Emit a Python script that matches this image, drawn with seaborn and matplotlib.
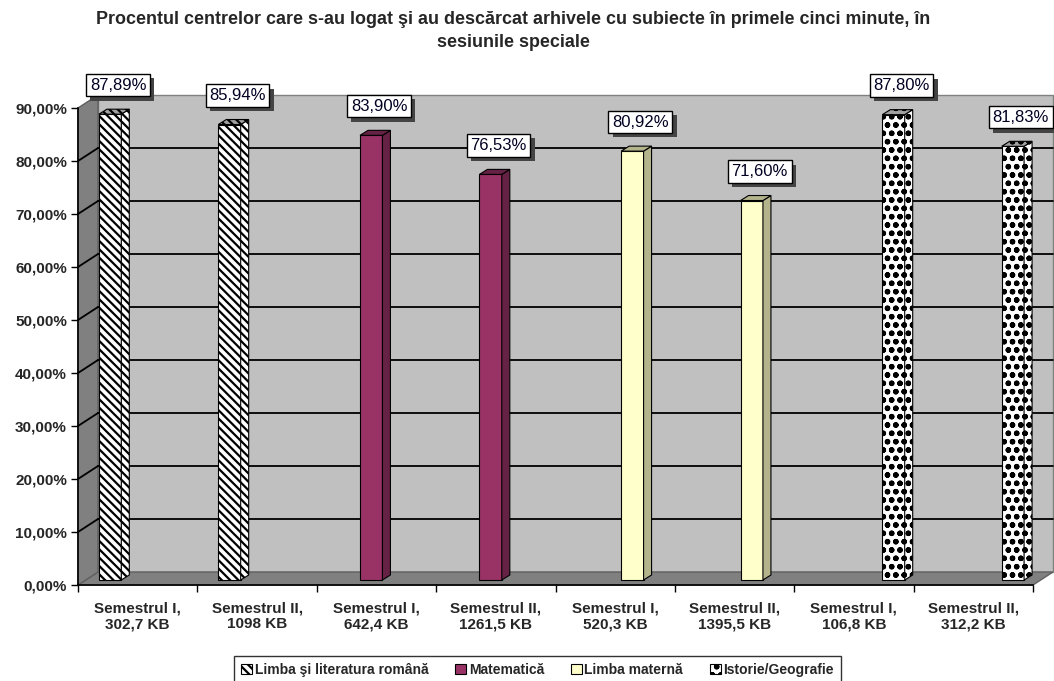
import numpy as np
import pandas as pd
import seaborn as sns
import matplotlib.pyplot as plt
import matplotlib.patheffects as pe
from matplotlib.patches import Polygon, Patch
from matplotlib.transforms import offset_copy, IdentityTransform
from matplotlib.ticker import FuncFormatter

categories = ["Semestrul I,\n302,7 KB", "Semestrul II,\n1098 KB",
              "Semestrul I,\n642,4 KB", "Semestrul II,\n1261,5 KB",
              "Semestrul I,\n520,3 KB", "Semestrul II,\n1395,5 KB",
              "Semestrul I,\n106,8 KB", "Semestrul II,\n312,2 KB"]
subjects = ["Limba şi literatura română", "Limba şi literatura română",
            "Matematică", "Matematică",
            "Limba maternă", "Limba maternă",
            "Istorie/Geografie", "Istorie/Geografie"]
values = [87.89, 85.94, 83.90, 76.53, 80.92, 71.60, 87.80, 81.83]
subject_order = ["Limba şi literatura română", "Matematică", "Limba maternă", "Istorie/Geografie"]
yticks = [0, 10, 20, 30, 40, 50, 60, 70, 80, 90]

title = ("Procentul centrelor care s-au logat şi au descărcat arhivele cu subiecte în primele cinci minute, în\n"
         "sesiunile speciale")

df = pd.DataFrame({"cat": categories, "subj": subjects, "val": values})

sns.set_style("white")
plt.rcParams['font.family'] = ['Liberation Sans', 'DejaVu Sans']
plt.rcParams['hatch.linewidth'] = 1.6

# stil pe serie: fata, lateral, hasura
styles = {
    "Limba şi literatura română": ("white", "white", "\\\\\\\\"),
    "Matematică": ("#993366", "#662244", None),
    "Limba maternă": ("#FFFFCC", "#B3B38C", None),
    "Istorie/Geografie": ("white", "white", "oo"),
}

fig = plt.figure(figsize=(10.54, 6.81), dpi=100)
ax = fig.add_axes([78 / 1054, 1 - 585 / 681, (1033 - 78) / 1054, (585 - 108) / 681])
ax.set_facecolor("none")

sns.barplot(data=df, x="cat", y="val", hue="subj", hue_order=subject_order,
            order=categories, dodge=True, width=0.75, legend=False, ax=ax,
            saturation=1, zorder=3)

ax.set_xlim(-0.5, 7.5)
ax.set_ylim(0, 90)
ax.set_xlabel("")
ax.set_ylabel("")

# perete spate, podea, perete stanga (efect 3D)
DX, DY = 20, 13
back = offset_copy(ax.transData, fig=fig, x=DX, y=DY, units='dots')
T = ax.transData
fig.canvas.draw()

def disp(x, y, dx=0, dy=0):
    p = T.transform((x, y))
    return (p[0] + dx, p[1] + dy)

idt = IdentityTransform()
ax.add_patch(Polygon([disp(-0.5, 0, DX, DY), disp(7.5, 0, DX, DY), disp(7.5, 90, DX, DY), disp(-0.5, 90, DX, DY)],
                     closed=True, facecolor="#C0C0C0", edgecolor="#808080", lw=1,
                     transform=idt, clip_on=False, zorder=0))
ax.add_patch(Polygon([disp(-0.5, 0), disp(7.5, 0), disp(7.5, 0, DX, DY), disp(-0.5, 0, DX, DY)],
                     closed=True, facecolor="#808080", edgecolor="#606060", lw=1,
                     transform=idt, clip_on=False, zorder=0.5))
ax.add_patch(Polygon([disp(-0.5, 0), disp(-0.5, 90), disp(-0.5, 90, DX, DY), disp(-0.5, 0, DX, DY)],
                     closed=True, facecolor="#808080", edgecolor="#606060", lw=1,
                     transform=idt, clip_on=False, zorder=0.5))
for v in yticks[1:-1]:
    ax.plot([-0.5, 7.5], [v, v], color="black", lw=1.3, transform=back, clip_on=False, zorder=1)
    a, b = disp(-0.5, v), disp(-0.5, v, DX, DY)
    ax.plot([a[0], b[0]], [a[1], b[1]], color="black", lw=1.3, transform=idt, clip_on=False, zorder=1)

# bare 3D
SX, SY = 6, 5
D, DD = 8, 5
shadow = [pe.withSimplePatchShadow(offset=(3, -3), shadow_rgbFace="#444444", alpha=1.0)]
for subj, cont in zip(subject_order, ax.containers):
    face, side, hatch = styles[subj]
    for bar in cont:
        x0, yb = bar.get_x(), bar.get_y()
        x1, yt = x0 + bar.get_width(), yb + bar.get_height()
        bar.set_transform(offset_copy(ax.transData, fig=fig, x=SX, y=SY, units='dots'))
        bar.set_facecolor(face)
        bar.set_edgecolor("black")
        bar.set_linewidth(0.8)
        bar.set_clip_on(False)
        if hatch:
            bar.set_hatch(hatch)
        p_tl = disp(x1, yt, SX, SY)
        p_bl = disp(x1, yb, SX, SY)
        p_l = disp(x0, yt, SX, SY)
        ax.add_patch(Polygon([p_bl, (p_bl[0] + D, p_bl[1] + DD), (p_tl[0] + D, p_tl[1] + DD), p_tl],
                             closed=True, facecolor=side, edgecolor="black", lw=0.8,
                             hatch=hatch, transform=idt, clip_on=False, zorder=3))
        ax.add_patch(Polygon([p_l, p_tl, (p_tl[0] + D, p_tl[1] + DD), (p_l[0] + D, p_l[1] + DD)],
                             closed=True, facecolor="#A0A0A0" if hatch else side, edgecolor="black", lw=0.8,
                             hatch=hatch, transform=idt, clip_on=False, zorder=3))
        lbl = f"{yt:.2f}".replace(".", ",") + "%"
        xc = (x0 + x1) / 2
        ax.annotate(lbl, (xc, yt), xytext=(14, 34), textcoords="offset pixels",
                    ha="center", va="center", fontsize=12, color="#000022", zorder=6,
                    bbox=dict(boxstyle="square,pad=0.22", fc="white", ec="black", lw=1,
                              path_effects=shadow),
                    annotation_clip=False)

# axe
ax.set_yticks(yticks)
ax.yaxis.set_major_formatter(FuncFormatter(lambda v, p: f"{v:.2f}".replace(".", ",") + "%"))
ax.set_xticks(np.arange(-0.5, 8, 1), minor=True)
ax.set_xticks(range(len(categories)))
ax.set_xticklabels(categories, fontweight="bold", fontsize=11, linespacing=1.15)
ax.tick_params(axis="x", which="major", length=0, pad=12)
ax.tick_params(axis="x", which="minor", length=5, width=1, color="black", bottom=True)
ax.tick_params(axis="y", length=5, width=1, color="black", left=True, labelsize=11, pad=3)
for t in ax.get_yticklabels():
    t.set_fontweight("bold")
for s in ["top", "right"]:
    ax.spines[s].set_visible(False)
for s in ["left", "bottom"]:
    ax.spines[s].set_color("black")
    ax.spines[s].set_linewidth(1.2)
    ax.spines[s].set_zorder(4)

fig.text(0.487, 1 - 31 / 681, title, ha="center", va="center", fontsize=12.9,
         fontweight="bold", linespacing=1.45)

handles = [Patch(facecolor=styles[s][0], edgecolor="black", hatch=styles[s][2], lw=0.8) for s in subject_order]
leg = fig.legend(handles, subject_order, loc="upper center", bbox_to_anchor=(0.51, 1 - 656 / 681),
                 ncol=4, frameon=True, fancybox=False, edgecolor="black",
                 handlelength=0.8, handleheight=0.8, handletextpad=0.2, columnspacing=1.9,
                 borderpad=0.5, borderaxespad=0, prop={"weight": "bold", "size": 10})
leg.get_frame().set_linewidth(1)

fig.savefig("out.png", dpi=100)
